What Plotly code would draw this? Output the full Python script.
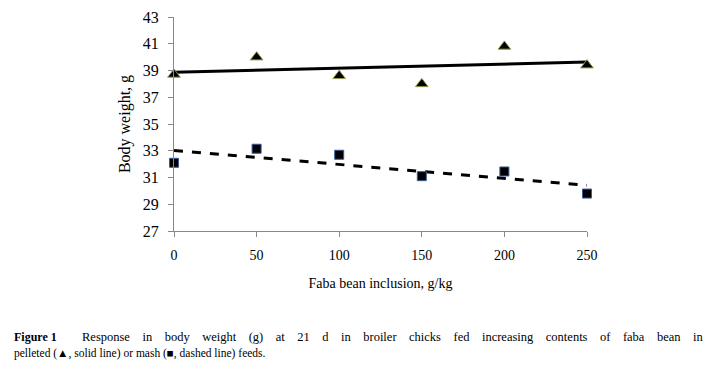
import numpy as np
import plotly.graph_objects as go

inclusion = [0, 50, 100, 150, 200, 250]
pelleted = [38.7, 40.0, 38.6, 38.0, 40.8, 39.4]
mash = [32.1, 33.15, 32.7, 31.1, 31.45, 29.8]
y_ticks = [27, 29, 31, 33, 35, 37, 39, 41, 43]
x_ticks = [0, 50, 100, 150, 200, 250]

xs = np.array(inclusion, dtype=float)
p_fit = np.polyfit(xs, pelleted, 1)
m_fit = np.polyfit(xs, mash, 1)
line_x = [xs.min(), xs.max()]

fig = go.Figure()
fig.add_trace(go.Scatter(x=line_x, y=np.polyval(p_fit, line_x), mode="lines",
                         line=dict(color="black", width=3), showlegend=False, cliponaxis=False))
fig.add_trace(go.Scatter(x=line_x, y=np.polyval(m_fit, line_x), mode="lines",
                         line=dict(color="black", width=3, dash="dash"), showlegend=False, cliponaxis=False))
fig.add_trace(go.Scatter(x=inclusion, y=pelleted, mode="markers", cliponaxis=False,
                         marker=dict(symbol="triangle-up", size=11, color="black",
                                     line=dict(color="#9a9a50", width=1)), showlegend=False))
fig.add_trace(go.Scatter(x=inclusion, y=mash, mode="markers", cliponaxis=False,
                         marker=dict(symbol="square", size=9, color="black",
                                     line=dict(color="#3a5a9a", width=1)), showlegend=False))

# page has an 8px body margin; figure size compensates
L, T, PW, PH = 166, 9, 413, 214
font_serif = "Liberation Serif, Times New Roman, serif"
fig.update_layout(
    width=703, height=362,
    margin=dict(l=L, r=703 - L - PW, t=T, b=362 - T - PH, autoexpand=False),
    paper_bgcolor="white", plot_bgcolor="white",
    font=dict(family=font_serif, color="black", size=14),
    xaxis=dict(range=[0, 250], tickvals=x_ticks, showline=True, linecolor="#888888",
               linewidth=1, ticks="outside", tickcolor="#888888", ticklen=5,
               ticklabelstandoff=6,
               showgrid=False, zeroline=False, tickfont=dict(size=14), automargin=False,
               title=dict(text="Faba bean inclusion, g/kg", font=dict(size=14), standoff=16)),
    yaxis=dict(range=[27, 43], tickvals=y_ticks, showline=True, linecolor="#888888",
               linewidth=1, ticks="outside", tickcolor="#888888", ticklen=5,
               ticklabelstandoff=6,
               showgrid=False, zeroline=False, tickfont=dict(size=16), automargin=False,
               title=dict(text="Body weight, g", font=dict(size=16), standoff=8)),
)

def px(sx):
    return (sx - 8 - L) / PW

def py(sy):
    return (T + PH - (sy - 8)) / PH

gap = "\u00a0" * 4
line1 = gap.join("Response in body weight (g) at 21 d in broiler chicks fed increasing contents of faba bean in".split(" "))
fig.add_annotation(xref="paper", yref="paper", x=px(12), y=py(337),
                   xanchor="left", yanchor="middle", showarrow=False,
                   text="<b>Figure 1</b>", font=dict(size=12))
fig.add_annotation(xref="paper", yref="paper", x=px(705), y=py(337),
                   xanchor="right", yanchor="middle", showarrow=False,
                   text=line1, font=dict(size=12.5))
fig.add_annotation(xref="paper", yref="paper", x=px(12), y=py(353),
                   xanchor="left", yanchor="middle", showarrow=False,
                   text="pelleted (▲, solid line) or mash (■, dashed line) feeds.",
                   font=dict(size=11.5))

fig.write_html("out.html")
